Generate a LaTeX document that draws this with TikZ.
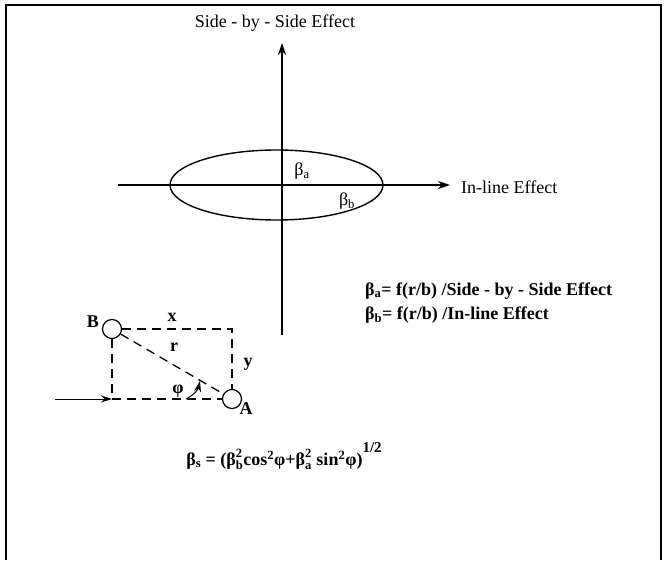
\documentclass[tikz,border=0pt]{standalone}
\usepackage{amsmath}
\usepackage{fontspec}
\setmainfont{Liberation Serif}
\usepackage{tikz}
\usetikzlibrary{positioning,arrows.meta,calc}

\newcommand{\subsup}[2]{$\text{β}^{\text{#1}}_{\text{#2}}$}

\begin{document}
\begin{tikzpicture}[
    x=1pt, y=-1pt,
    axis/.style={line width=1.3pt, -{Stealth[length=12pt, width=8pt]}},
    dashline/.style={line width=1.3pt, dash pattern=on 9pt off 6pt},
    arr/.style={line width=1pt, -{Stealth[length=11pt, width=7pt]}},
    circ/.style={draw, circle, line width=1.2pt, minimum size=19pt, inner sep=0pt},
    lbl/.style={font=\fontsize{18}{21}\selectfont, inner sep=1pt},
    eqn/.style={font=\fontsize{18}{21}\selectfont\bfseries, inner sep=1pt}
  ]
    \useasboundingbox (0,0) rectangle (664,560);
    % frame
    \draw[line width=1.2pt] (6,560) -- (6,5) -- (661,5) -- (661,560);

    % axes and ellipse
    \coordinate (vbot) at (282,335);
    \coordinate (vtop) at (282,43);
    \coordinate (hleft) at (118,185);
    \coordinate (hright) at (450,185);
    \draw[line width=1.4pt] (276.5,185) ellipse [x radius=106.5, y radius=35];
    \draw[axis] (vbot) -- (vtop);
    \draw[axis] (hleft) -- (hright);

    \node[lbl] (title) at (275,23) {Side - by - Side Effect};
    \node[lbl, anchor=west] (inline) at (460,187) {In-line Effect};
    \node[lbl] (ba) at (302,171) {β\textsubscript{a}};
    \node[lbl] (bb) at (347,201) {β\textsubscript{b}};

    \node[eqn, anchor=west] (defa) at (364,291) {β\textsubscript{a}= f(r/b) /Side - by - Side Effect};
    \node[eqn, anchor=west] (defb) at (364,315) {β\textsubscript{b}= f(r/b) /In-line Effect};

    % two cylinders
    \node[circ] (B) at (112,329) {};
    \node[circ] (A) at (232,399) {};
    \node[eqn] (Blbl) at (93,322) {B};
    \node[eqn] (Albl) at (246,409) {A};

    \draw[dashline] (B.east) -- (B -| A) -- (A.north);
    \draw[dashline] (B.south) -- (B |- A) -- (A.west);
    \draw[dashline] (B) -- (A);

    \coordinate (in) at (55,399);
    \draw[arr] (in) -- (B |- A);

    \node[eqn] (xl) at (172,317) {x};
    \node[eqn] (rl) at (174,347) {r};
    \node[eqn] (yl) at (248,364) {y};
    \node[eqn] (phil) at (178,391) {φ};

    \coordinate (phi1) at (186,399);
    \coordinate (phi2) at (200,381);
    \draw[arr] (phi1) to[bend right=25] (phi2);

    \node[eqn] (betas) at (284,456) {β\textsubscript{s} = (\subsup{2}{b}cos\textsuperscript{2}φ+\subsup{2}{a} sin\textsuperscript{2}φ)\raisebox{1.6ex}{\fontsize{15}{17}\selectfont 1/2}};
  \end{tikzpicture}
\end{document}
